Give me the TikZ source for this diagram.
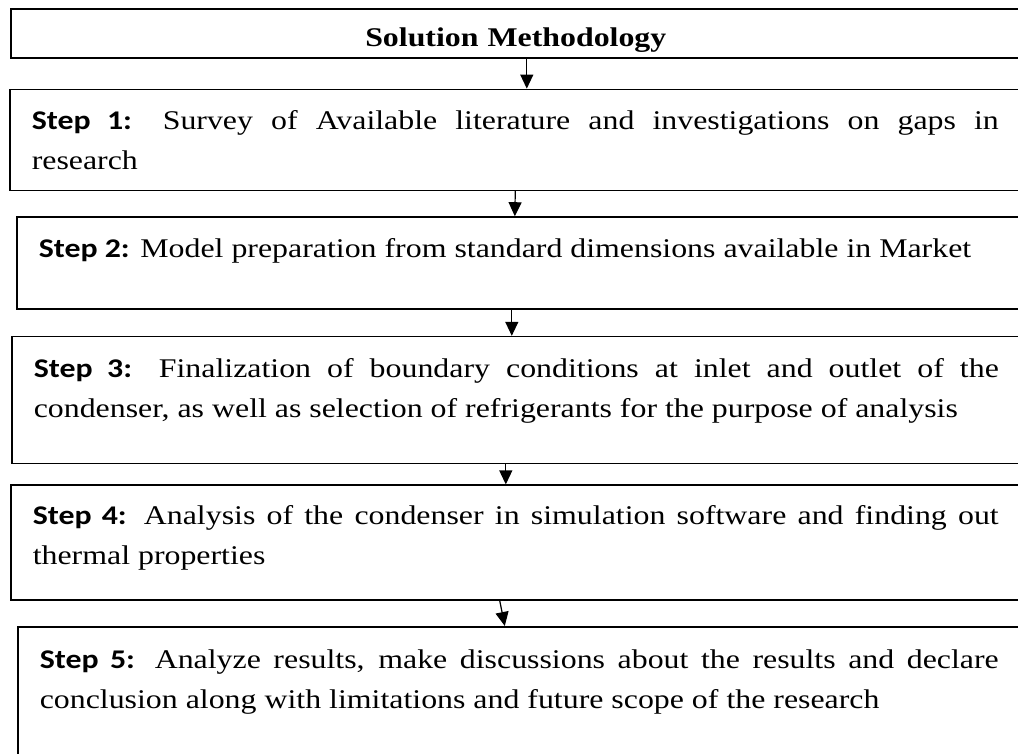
\documentclass[tikz,border=0pt]{standalone}
\usepackage{fontspec}
\setmainfont{Liberation Serif}[FakeStretch=1.18]
\newfontfamily\stepfont{Carlito}[FakeStretch=1.18]
\usetikzlibrary{positioning,arrows.meta}

\newcommand{\steplabel}[1]{{\stepfont\bfseries Step #1:}}

\begin{document}
\begin{tikzpicture}[
  x=1pt, y=-1pt,
  font=\fontsize{27}{40}\selectfont,
  stepbox/.style={draw, line width=1.6pt, inner xsep=22pt, inner ysep=0pt,
                  align=justify, execute at begin node={\rightskip=20pt\relax}},
  headbox/.style={draw, line width=1.6pt, inner xsep=22pt, inner ysep=0pt,
                  text width=986pt, align=center, text height=38pt, text depth=11pt,
                  font=\fontsize{27}{40}\selectfont\bfseries},
  flow/.style={-{Triangle[length=14pt, width=13pt]}, line width=1.2pt},
]
  \useasboundingbox (0,0) rectangle (1018,753);
  \clip (0,0) rectangle (1018,753);

  \node[headbox, anchor=north west] (head) at (10,8)
    {Solution Methodology\hspace*{20pt}\mbox{}};

  \node[stepbox, below=30pt of head.south west, anchor=north west, xshift=-1pt,
        text width=987pt, text height=40pt, text depth=61pt] (s1)
    {\steplabel{1} Survey of Available literature and investigations on gaps in\linebreak
     research};
  \node[stepbox, below=25pt of s1.south west, anchor=north west, xshift=7pt,
        text width=980pt, text height=40pt, text depth=52pt] (s2)
    {\steplabel{2} Model preparation from standard dimensions available in Market};
  \node[stepbox, below=26pt of s2.south west, anchor=north west, xshift=-5pt,
        text width=985pt, text height=41pt, text depth=86pt] (s3)
    {\steplabel{3} Finalization of boundary conditions at inlet and outlet of the\linebreak
     condenser, as well as selection of refrigerants for the purpose of analysis};
  \node[stepbox, below=20pt of s3.south west, anchor=north west, xshift=-1pt,
        text width=986pt, text height=39pt, text depth=76pt] (s4)
    {\steplabel{4} Analysis of the condenser in simulation software and finding out\linebreak
     thermal properties};
  \node[stepbox, below=25pt of s4.south west, anchor=north west, xshift=7pt,
        text width=979pt, text height=42pt, text depth=120pt] (s5)
    {\steplabel{5} Analyze results, make discussions about the results and declare\linebreak
     conclusion along with limitations and future scope of the research};

  \foreach \a/\b/\p/\q in {head/s1/1/1.5, s1/s2/-10/-14, s2/s3/-17/-14.5,
                           s3/s4/-20.5/-20, s4/s5/-26/-24.5}
    \draw[flow] ([xshift=\p pt]\a.south) -- ([xshift=\q pt]\b.north);
\end{tikzpicture}
\end{document}
